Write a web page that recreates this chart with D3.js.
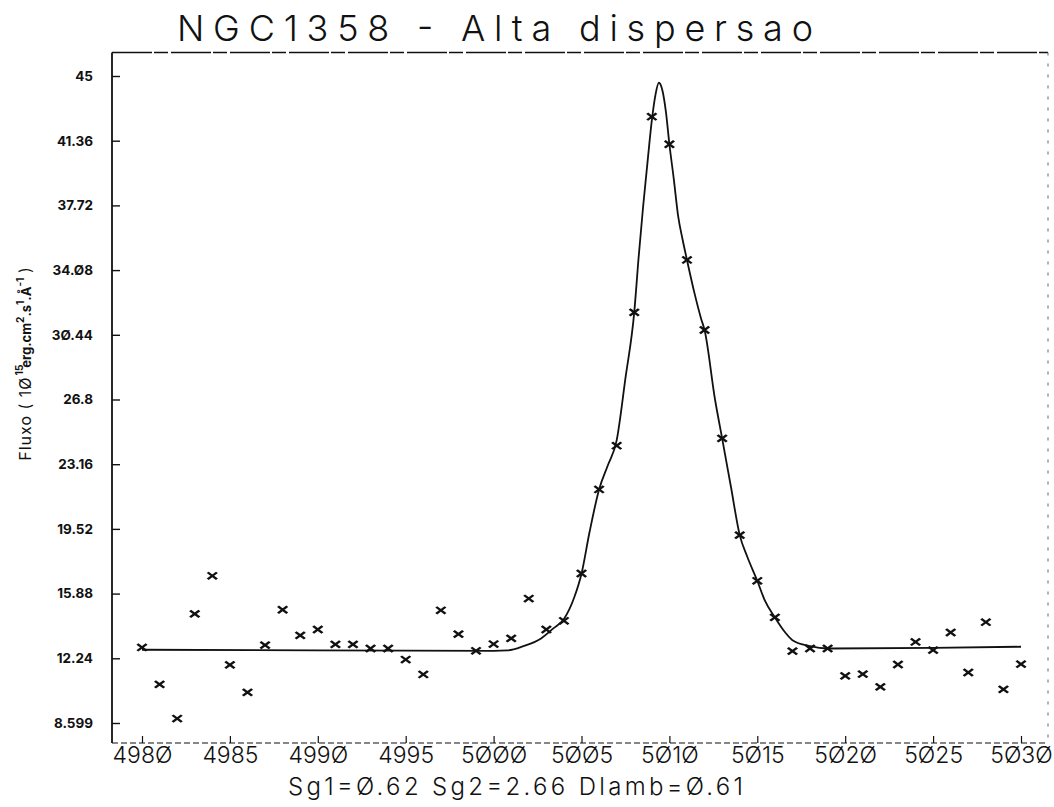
<!DOCTYPE html>
<html>
<head>
<meta charset="utf-8">
<script src="https://cdn.jsdelivr.net/npm/d3@7"></script>
<style>
  html, body { margin: 0; padding: 0; background: #fff; }
  svg { display: block; }
</style>
</head>
<body>
<svg id="chart" width="1054" height="807"></svg>
<script>
// Observed [O III] profile of NGC1358, high dispersion spectrum
const wavelengths = [
  4980, 4981, 4982, 4983, 4984, 4985, 4986, 4987, 4988, 4989,
  4990, 4991, 4992, 4993, 4994, 4995, 4996, 4997, 4998, 4999,
  5000, 5001, 5002, 5003, 5004, 5005, 5006, 5007, 5008, 5009,
  5010, 5011, 5012, 5013, 5014, 5015, 5016, 5017, 5018, 5019,
  5020, 5021, 5022, 5023, 5024, 5025, 5026, 5027, 5028, 5029, 5030
];
const fluxObserved = [
  12.85, 10.77, 8.85, 14.74, 16.88, 11.87, 10.32, 12.98, 14.97, 13.53,
  13.86, 13.02, 13.02, 12.79, 12.79, 12.17, 11.33, 14.94, 13.60, 12.66,
  13.04, 13.36, 15.60, 13.86, 14.35, 17.01, 21.74, 24.20, 31.70, 42.71,
  41.16, 34.65, 30.71, 24.61, 19.17, 16.60, 14.54, 12.64, 12.79, 12.79,
  11.25, 11.35, 10.63, 11.89, 13.16, 12.70, 13.69, 11.44, 14.27, 10.49, 11.91
];

// Two-component fit, sampled along the drawn curve
const fitWavelength = [
  4980, 4990, 5000, 5000.8, 5001.7, 5002.7, 5003.4, 5004.0, 5004.6, 5005.0,
  5005.45, 5006.0, 5006.5, 5007.0, 5007.5, 5008.0, 5008.25, 5008.5, 5008.75, 5009.0,
  5009.2, 5009.4, 5009.6, 5009.8, 5010.0, 5010.25, 5010.5, 5010.75, 5011.0, 5011.43,
  5011.8, 5012.0, 5012.6, 5013.0, 5013.5, 5014.0, 5014.43, 5015.0, 5015.42, 5016.0,
  5016.5, 5017.0, 5018.0, 5019.0, 5025.0, 5030.0
];
const fitFlux = [
  12.72, 12.68, 12.66, 12.68, 12.92, 13.36, 13.92, 14.45, 15.70, 17.00,
  19.30, 21.74, 23.10, 24.50, 28.00, 31.70, 34.80, 37.60, 40.10, 42.50,
  43.90, 44.62, 44.20, 43.00, 41.16, 39.20, 37.10, 35.80, 34.65, 32.77,
  31.36, 30.71, 26.77, 24.61, 21.89, 19.17, 17.95, 16.60, 15.51, 14.54,
  13.80, 13.26, 12.92, 12.79, 12.82, 12.89
];

const xTicks = [4980, 4985, 4990, 4995, 5000, 5005, 5010, 5015, 5020, 5025, 5030];
const yTicks = [8.599, 12.24, 15.88, 19.52, 23.16, 26.8, 30.44, 34.08, 37.72, 41.36, 45];

const titleText = "NGC1358 - Alta dispersao";
const fitText = "Sg1=0.62 Sg2=2.66 Dlamb=0.61";

// The plotter draws its zeros slashed
const slashed = s => String(s).replace(/0/g, "\u00D8");

// Frame of the plotting area
const frame = { left: 112, right: 1048, top: 52.5, bottom: 743 };
const ink = "#111";
const fontFamily = "Inter, Roboto, sans-serif";

const svg = d3.select("#chart");

const x = d3.scaleLinear().domain([4980, 5030]).range([142, 1021]);
const y = d3.scaleLinear().domain([8.599, 45]).range([723, 76]);

// Frame: solid left side, plotter-dashed elsewhere
const fg = svg.append("g").attr("stroke", ink).attr("fill", "none");
fg.append("line").attr("x1", frame.left).attr("x2", frame.left)
  .attr("y1", frame.top).attr("y2", frame.bottom).attr("stroke-width", 1.8);
fg.append("line").attr("x1", frame.left).attr("x2", frame.right)
  .attr("y1", frame.top).attr("y2", frame.top).attr("stroke-width", 1.3)
  .attr("stroke-dasharray", "40,2,14,3");
fg.append("line").attr("x1", frame.left).attr("x2", frame.right)
  .attr("y1", frame.bottom).attr("y2", frame.bottom).attr("stroke-width", 1.1)
  .attr("stroke-dasharray", "6,3");
fg.append("line").attr("x1", frame.right).attr("x2", frame.right)
  .attr("y1", frame.top).attr("y2", frame.bottom).attr("stroke-width", 1)
  .attr("stroke", "#666").attr("stroke-dasharray", "3,8");

// Bottom axis with inward ticks
const xAxis = d3.axisBottom(x).tickValues(xTicks)
  .tickSizeInner(-7).tickSizeOuter(0).tickPadding(4)
  .tickFormat(slashed);
const gx = svg.append("g")
  .attr("transform", `translate(0,${frame.bottom})`).call(xAxis);
gx.select(".domain").remove();
gx.selectAll(".tick line").attr("stroke", ink).attr("stroke-width", 1.2);
gx.selectAll(".tick text").attr("fill", ink)
  .attr("font-size", 23).attr("font-weight", 300)
  .attr("font-family", fontFamily);

// Left axis with inward ticks
const yAxis = d3.axisLeft(y).tickValues(yTicks)
  .tickSizeInner(-8).tickSizeOuter(0).tickPadding(19)
  .tickFormat(slashed);
const gy = svg.append("g")
  .attr("transform", `translate(${frame.left},0)`).call(yAxis);
gy.select(".domain").remove();
gy.selectAll(".tick line").attr("stroke", ink).attr("stroke-width", 1.4);
gy.selectAll(".tick text").attr("fill", ink)
  .attr("font-size", 13.5).attr("font-weight", 700)
  .attr("font-family", fontFamily);

// Fitted profile
const line = d3.line()
  .x(d => x(d[0])).y(d => y(d[1]))
  .curve(d3.curveMonotoneX);
svg.append("path")
  .datum(fitWavelength.map((w, i) => [w, fitFlux[i]]))
  .attr("d", line)
  .attr("fill", "none").attr("stroke", ink).attr("stroke-width", 1.8)
  .attr("stroke-linejoin", "round");

// Observed points as crosses
const cross = d3.symbol().type(d3.symbolTimes).size(44);
svg.append("g").selectAll("path")
  .data(wavelengths.map((w, i) => [w, fluxObserved[i]]))
  .join("path")
  .attr("transform", d => `translate(${x(d[0])},${y(d[1])}) scale(1.15,0.85)`)
  .attr("d", cross)
  .attr("fill", "none").attr("stroke", ink).attr("stroke-width", 2.4);

// Title
svg.append("text")
  .attr("x", 177).attr("y", 41)
  .attr("font-family", fontFamily)
  .attr("font-size", 36).attr("font-weight", 300).attr("fill", ink)
  .attr("textLength", 636).attr("lengthAdjust", "spacing")
  .text(titleText);

// Fit parameters under the axis
svg.append("text")
  .attr("x", 288).attr("y", 795)
  .attr("font-family", fontFamily)
  .attr("font-size", 24).attr("font-weight", 300).attr("fill", ink)
  .attr("textLength", 455).attr("lengthAdjust", "spacing")
  .text(slashed(fitText));

// Vertical axis title with units
const yl = svg.append("text")
  .attr("transform", "translate(31,364) rotate(-90)")
  .attr("text-anchor", "middle").attr("fill", ink)
  .attr("font-family", fontFamily)
  .attr("font-size", 16).attr("font-weight", 400);
yl.append("tspan").attr("letter-spacing", 1).text("Fluxo ( " + slashed("10"));
yl.append("tspan").attr("font-size", 10).attr("font-weight", 700).attr("dy", -8).attr("dx", 1).text("15");
yl.append("tspan").attr("font-size", 13).attr("font-weight", 700).attr("dy", 8).attr("dx", -3).text("erg.cm");
yl.append("tspan").attr("font-size", 10).attr("font-weight", 700).attr("dy", -7).text("2");
yl.append("tspan").attr("font-size", 13).attr("font-weight", 700).attr("dy", 7).text(".s");
yl.append("tspan").attr("font-size", 10).attr("font-weight", 700).attr("dy", -7).text("1");
yl.append("tspan").attr("font-size", 13).attr("font-weight", 700).attr("dy", 7).text(".Å");
yl.append("tspan").attr("font-size", 10).attr("font-weight", 700).attr("dy", -7).text("-1");
yl.append("tspan").attr("dy", 7).text(" )");
</script>
</body>
</html>
